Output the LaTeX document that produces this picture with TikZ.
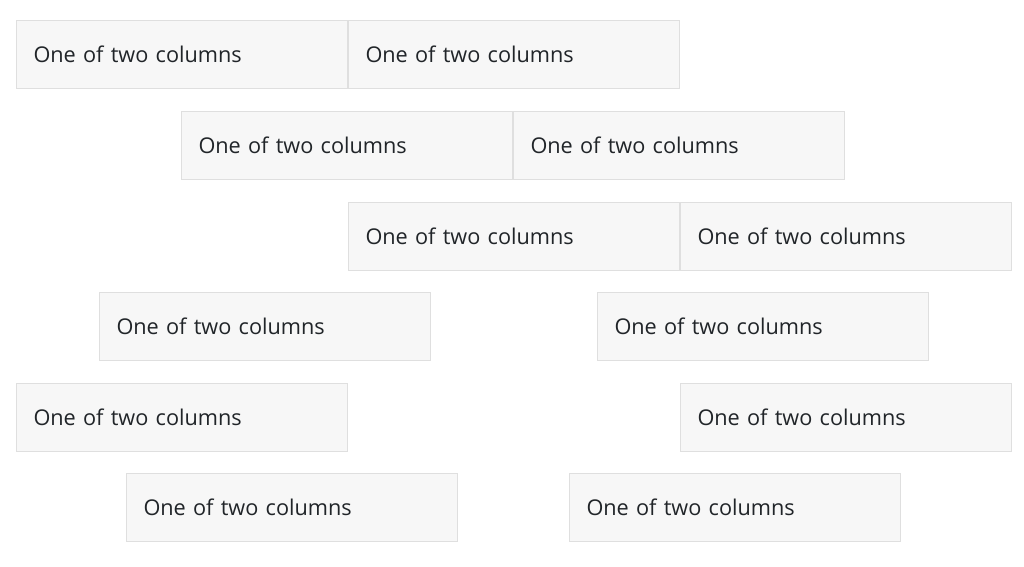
\documentclass[tikz,border=0pt]{standalone}
\usepackage{fontspec}
\setmainfont{Open Sans}
\definecolor{boxfill}{HTML}{F7F7F7}
\definecolor{boxline}{HTML}{DFDFDF}
\definecolor{txt}{HTML}{212529}
\tikzset{
  col/.style={draw=boxline, line width=1pt, fill=boxfill, anchor=north west,
    minimum height=68pt, inner xsep=17pt, inner ysep=0pt, text width=297pt,
    align=left, text=txt, font=\fontsize{21.7}{26}\selectfont}
}
\begin{document}
\begin{tikzpicture}[x=1pt,y=-1pt]
\useasboundingbox[fill=white] (0,0) rectangle (1024,566);
\node[col] (a1) at (16,20) {One of two columns};
\node[col] (a2) at (348,20) {One of two columns};
\node[col] (b1) at (181,111) {One of two columns};
\node[col] (b2) at (513,111) {One of two columns};
\node[col] (c1) at (348,202) {One of two columns};
\node[col] (c2) at (680,202) {One of two columns};
\node[col] (d1) at (99,292) {One of two columns};
\node[col] (d2) at (597,292) {One of two columns};
\node[col] (e1) at (16,383) {One of two columns};
\node[col] (e2) at (680,383) {One of two columns};
\node[col] (f1) at (126,473) {One of two columns};
\node[col] (f2) at (569,473) {One of two columns};
\end{tikzpicture}
\end{document}
